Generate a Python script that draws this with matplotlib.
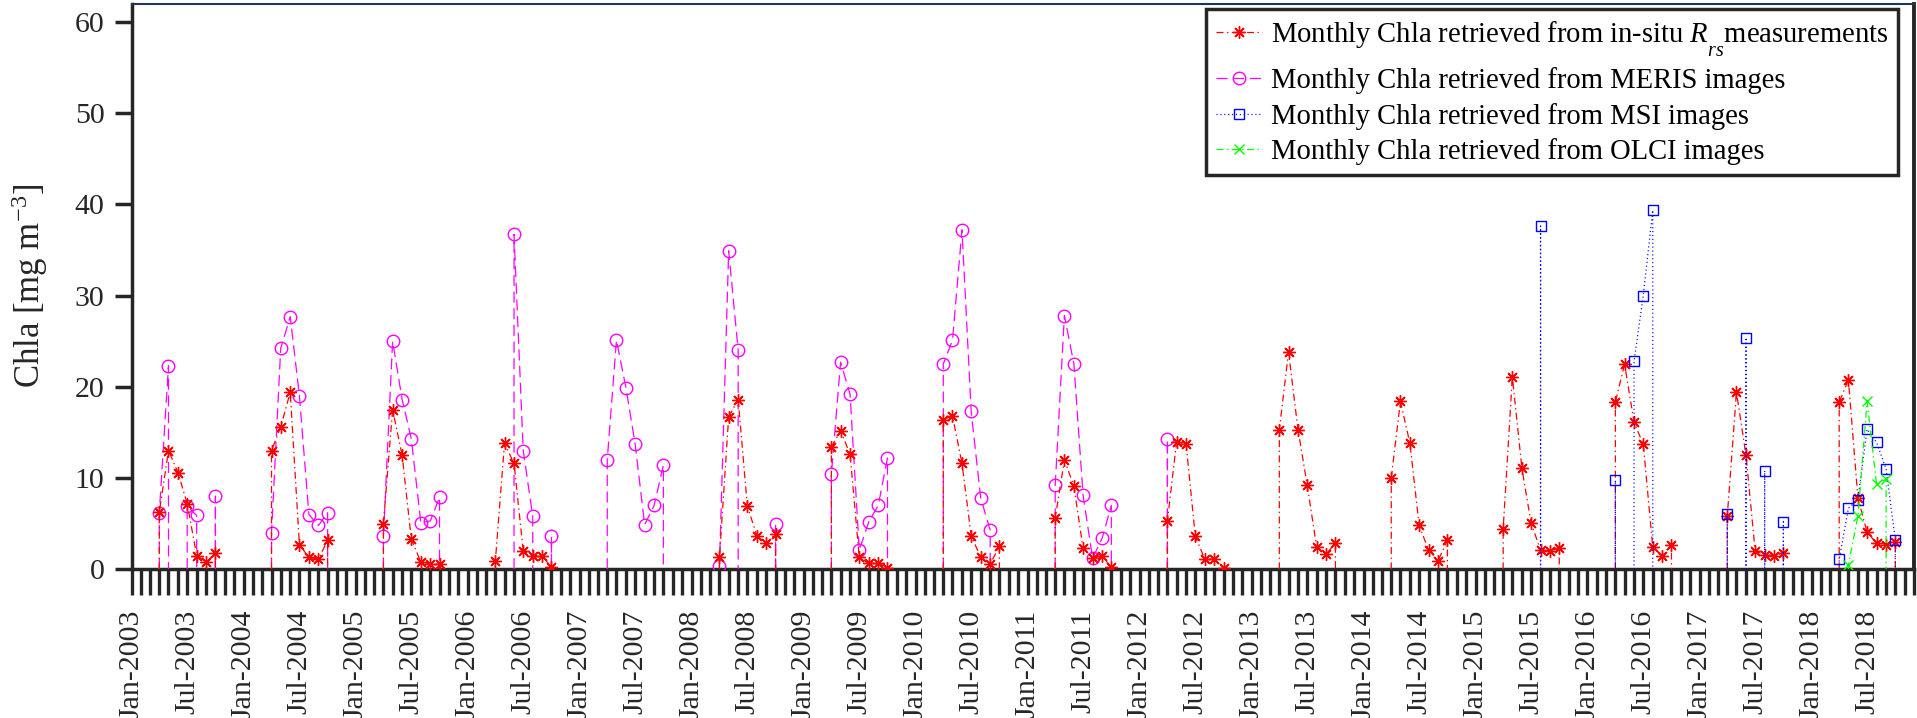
import datetime as dt
import numpy as np
import matplotlib
matplotlib.use('Agg')
import matplotlib.pyplot as plt
import matplotlib.dates as mdates
from matplotlib.ticker import FixedLocator, FuncFormatter

plt.rcParams['font.family'] = ['Liberation Serif', 'DejaVu Serif']
plt.rcParams['mathtext.fontset'] = 'custom'
plt.rcParams['mathtext.rm'] = 'Liberation Serif'
plt.rcParams['mathtext.it'] = 'Liberation Serif:italic'
plt.rcParams['lines.scale_dashes'] = False

# MATLAB puts a lone subscript much lower than mathtext does
try:
    from matplotlib import _mathtext
    _mathtext.FontConstantsBase.sub1 = 1.05
except Exception:
    pass

# --- data: one row per year, columns are Apr..Oct (None = no retrieval) ---
years = list(range(2003, 2019))
months = [4, 5, 6, 7, 8, 9, 10]
N = None

insitu = [
    [6.3, 13.0, 10.6, 7.2, 1.5, 0.8, 1.75],      # 2003
    [13.0, 15.6, 19.4, 2.7, 1.3, 1.1, 3.2],      # 2004
    [5.0, 17.5, 12.5, 3.3, 0.8, 0.6, 0.6],       # 2005
    [0.9, 13.8, 11.6, 2.0, 1.5, 1.5, 0.2],       # 2006
    [N, N, N, N, N, N, N],                       # 2007
    [1.3, 16.7, 18.6, 6.9, 3.7, 2.85, 3.9],      # 2008
    [13.4, 15.2, 12.6, 1.3, 0.65, 0.7, 0.1],     # 2009
    [16.4, 16.8, 11.6, 3.7, 1.3, 0.6, 2.5],      # 2010
    [5.6, 12.0, 9.1, 2.3, 1.2, 1.5, 0.2],        # 2011
    [5.3, 14.0, 13.7, 3.6, 1.1, 1.1, 0.1],       # 2012
    [15.3, 23.8, 15.3, 9.2, 2.4, 1.7, 2.85],     # 2013
    [10.0, 18.4, 13.8, 4.8, 2.1, 0.95, 3.2],     # 2014
    [4.4, 21.1, 11.1, 5.1, 2.1, 2.05, 2.3],      # 2015
    [18.3, 22.5, 16.1, 13.7, 2.4, 1.5, 2.7],     # 2016
    [5.85, 19.4, 12.5, 2.0, 1.6, 1.5, 1.8],      # 2017
    [18.3, 20.75, 7.85, 4.05, 2.85, 2.7, 2.95],  # 2018
]

meris = [
    [6.2, 22.3, N, 6.9, 5.9, N, 8.0],
    [4.0, 24.2, 27.7, 19.0, 6.0, 4.8, 6.2],
    [3.6, 25.0, 18.6, 14.3, 5.1, 5.3, 7.9],
    [N, N, 36.7, 13.0, 5.8, N, 3.6],
    [12.0, 25.1, 19.9, 13.7, 4.9, 7.0, 11.4],
    [0.4, 34.9, 24.0, N, N, N, 5.0],
    [10.4, 22.7, 19.2, 2.1, 5.2, 7.0, 12.2],
    [22.5, 25.1, 37.2, 17.3, 7.8, 4.3, N],
    [9.2, 27.8, 22.5, 8.1, 1.2, 3.4, 7.0],
    [14.25, N, N, N, N, N, N],
] + [[N] * 7] * 6

msi = [[N] * 7] * 12 + [
    [N, N, N, N, 37.6, N, N],                    # 2015
    [9.75, N, 22.8, 30.0, 39.35, N, N],          # 2016
    [6.1, N, 25.4, N, 10.8, N, 5.2],             # 2017
    [1.1, 6.7, 7.6, 15.35, 13.9, 11.0, 3.2],     # 2018
]

olci = [[N] * 7] * 15 + [
    [N, 0.5, 5.8, 18.4, 9.3, 9.9, N],            # 2018
]

labels = [
    'Monthly Chla retrieved from in-situ $R_{rs}$measurements',
    'Monthly Chla retrieved from MERIS images',
    'Monthly Chla retrieved from MSI images',
    'Monthly Chla retrieved from OLCI images',
]


def build_path(table):
    # each run of consecutive months starts and ends with a drop to zero
    xs, ys, marks = [], [], []
    for yr, row in zip(years, table):
        run = []
        for m, v in zip(months + [None], list(row) + [None]):
            if v is not None:
                run.append((dt.datetime(yr, m, 1), v))
                continue
            if run:
                xs.append(run[0][0]); ys.append(0.0)
                for d, val in run:
                    marks.append(len(xs)); xs.append(d); ys.append(val)
                xs.append(run[-1][0]); ys.append(0.0)
                xs.append(run[-1][0]); ys.append(np.nan)
                run = []
    return mdates.date2num(xs), np.array(ys), marks


W, H = 1917, 718
fig = plt.figure(figsize=(W / 100, H / 100), dpi=100)
ax = fig.add_axes([131.7 / W, 1 - 569.3 / H, (1914 - 131.7) / W, (569.3 - 3.5) / H])

dashdot = (0, (5, 2.5, 1, 2.5))
styles = [
    dict(color='red', ls=dashdot, marker=(8, 2, 0), ms=9, mec='red', mew=1.0, zorder=4),
    dict(color='magenta', ls=(0, (8, 4)), marker='o', ms=9, mfc='none', mec='magenta', mew=1.0, zorder=3),
    dict(color='blue', ls=(0, (0.8, 2.0)), marker='s', ms=6.7, mfc='none', mec='blue', mew=1.0, zorder=5),
    dict(color='lime', ls=dashdot, marker='x', ms=7, mec='lime', mew=1.0, zorder=6),
]

handles = []
for table, lab, st in zip([insitu, meris, msi, olci], labels, styles):
    x, y, marks = build_path(table)
    ln, = ax.plot(x, y, lw=0.9, markevery=marks, label=lab, **st)
    handles.append(ln)

# axes limits and monthly ticks
start = dt.datetime(2003, 1, 1)
end = dt.datetime(2018, 12, 1)
ax.set_xlim(mdates.date2num(start), mdates.date2num(end))
ax.set_ylim(0, 62)
ax.set_yticks(range(0, 61, 10))

tick_dates = [dt.datetime(y, m, 1) for y in range(2003, 2019) for m in range(1, 13)]
ax.xaxis.set_major_locator(FixedLocator(mdates.date2num(tick_dates)))


def fmt(v, pos):
    d = mdates.num2date(v)
    return d.strftime('%b-%Y') if d.month in (1, 7) else ''


ax.xaxis.set_major_formatter(FuncFormatter(fmt))

dark = '#262626'
ax.tick_params(axis='x', direction='out', length=19, width=2.4, color=dark,
               pad=10, labelsize=21.5, labelcolor=dark, labelrotation=90)
ax.tick_params(axis='y', direction='out', length=12.5, width=2.5, color=dark,
               pad=7, labelsize=21.5, labelcolor=dark)
for side in ['left', 'bottom']:
    ax.spines[side].set_linewidth(2.5)
    ax.spines[side].set_color(dark)
ax.spines['right'].set_linewidth(2.8)
ax.spines['right'].set_color(dark)
ax.spines['top'].set_linewidth(1.5)
ax.spines['top'].set_color('#1f3550')

ax.set_ylabel(r'Chla [mg m$^{-3}$]', fontsize=25, color=dark)
ax.yaxis.set_label_coords(-0.046, 0.5)

leg = ax.legend(handles=handles, loc='upper right',
                bbox_to_anchor=(1898 / W, 1 - 9 / H), bbox_transform=fig.transFigure,
                borderaxespad=0, fontsize=20.6, handlelength=1.6, handletextpad=0.3,
                borderpad=0.35, labelspacing=0.3, fancybox=False, framealpha=1)
leg.get_frame().set_edgecolor(dark)
leg.get_frame().set_linewidth(2.5)

fig.savefig('out.png', dpi=100)
